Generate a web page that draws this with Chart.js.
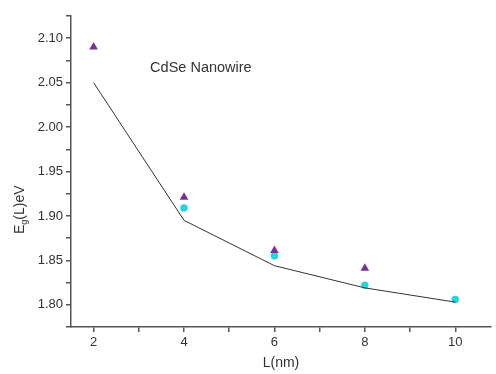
<!DOCTYPE html>
<html>
<head>
<meta charset="utf-8">
<script src="https://cdn.jsdelivr.net/npm/chart.js@4/dist/chart.umd.min.js"></script>
<style>
html,body{margin:0;padding:0;background:#fff;}
#wrap{position:relative;width:496px;height:374px;}
</style>
</head>
<body>
<div id="wrap"><canvas id="c" width="496" height="374"></canvas></div>
<script>
const lengths = [2, 4, 6, 8, 10];
const triangleL = [2, 4, 6, 8];
const triangleE = [2.090, 1.921, 1.861, 1.841];
const circleL = [4, 6, 8, 10];
const circleE = [1.909, 1.855, 1.822, 1.806];
const curveE = [2.050, 1.895, 1.844, 1.819, 1.803];
const xTickValues = [2, 3, 4, 5, 6, 7, 8, 9, 10];
const yTickValues = [1.775, 1.80, 1.825, 1.85, 1.875, 1.90, 1.925, 1.95, 1.975, 2.00, 2.025, 2.05, 2.075, 2.10, 2.125];
const annotationText = 'CdSe Nanowire';
const xTitle = 'L(nm)';

const font = "'Liberation Sans', Arial, sans-serif";
const axisColor = '#555';
const textColor = '#333';

const labelPlugin = {
  id: 'labels',
  afterDraw(chart) {
    const {ctx, scales} = chart;
    ctx.save();
    ctx.fillStyle = textColor;
    ctx.font = '14.5px ' + font;
    ctx.textBaseline = 'middle';
    ctx.textAlign = 'left';
    ctx.fillText(annotationText, scales.x.getPixelForValue(3.25), scales.y.getPixelForValue(2.067));
    ctx.translate(20, 196);
    ctx.rotate(-Math.PI / 2);
    ctx.textAlign = 'left';
    ctx.textBaseline = 'middle';
    ctx.font = '14px ' + font;
    let x = -38;
    ctx.fillText('E', x, 0); x += ctx.measureText('E').width;
    ctx.font = '9px ' + font;
    ctx.fillText('g', x, 5); x += ctx.measureText('g').width;
    ctx.font = '14px ' + font;
    ctx.fillText('(L)eV', x, 0);
    ctx.restore();
  }
};

new Chart(document.getElementById('c'), {
  type: 'scatter',
  data: {
    datasets: [
      {
        type: 'line',
        data: lengths.map((l, i) => ({x: l, y: curveE[i]})),
        borderColor: '#333',
        borderWidth: 1,
        pointRadius: 0,
        fill: false,
        tension: 0
      },
      {
        data: triangleL.map((l, i) => ({x: l, y: triangleE[i]})),
        pointStyle: 'triangle',
        pointRadius: 5,
        backgroundColor: '#7a2e9a',
        borderColor: '#7a2e9a',
        borderWidth: 0
      },
      {
        data: circleL.map((l, i) => ({x: l, y: circleE[i]})),
        pointStyle: 'circle',
        pointRadius: 3.7,
        backgroundColor: '#26d4de',
        borderColor: '#26d4de',
        borderWidth: 0
      }
    ]
  },
  options: {
    responsive: false,
    animation: false,
    layout: {padding: {top: 16, right: 0, left: 0, bottom: 0}},
    plugins: {legend: {display: false}, tooltip: {enabled: false}},
    scales: {
      x: {
        type: 'linear',
        min: 1.5,
        max: 10.79,
        afterFit(s) { s.height = 47; },
        afterBuildTicks(s) { s.ticks = xTickValues.map(v => ({value: v})); },
        border: {display: true, color: axisColor, width: 1.5},
        grid: {
          drawOnChartArea: false,
          drawTicks: true,
          tickLength: 5,
          tickColor: axisColor,
          lineWidth: 1.5
        },
        ticks: {
          autoSkip: false,
          maxRotation: 0,
          color: textColor,
          font: {family: font, size: 13},
          padding: 3,
          callback: (v) => (Math.round(v) % 2 === 0) ? String(Math.round(v)) : ''
        },
        title: {display: true, text: xTitle, color: textColor, font: {family: font, size: 14}, padding: {top: 0, bottom: 2}}
      },
      y: {
        type: 'linear',
        min: 1.775,
        max: 2.125,
        afterFit(s) { s.width = 71; },
        afterBuildTicks(s) { s.ticks = yTickValues.map(v => ({value: v})); },
        border: {display: true, color: axisColor, width: 1.5},
        grid: {
          drawOnChartArea: false,
          drawTicks: true,
          tickLength: 5,
          tickColor: axisColor,
          lineWidth: 1.5
        },
        ticks: {
          autoSkip: false,
          color: textColor,
          font: {family: font, size: 13},
          padding: 3,
          callback: (v) => (Math.round(v * 1000) % 50 === 0) ? v.toFixed(2) : ''
        }
      }
    }
  },
  plugins: [labelPlugin]
});
</script>
</body>
</html>
